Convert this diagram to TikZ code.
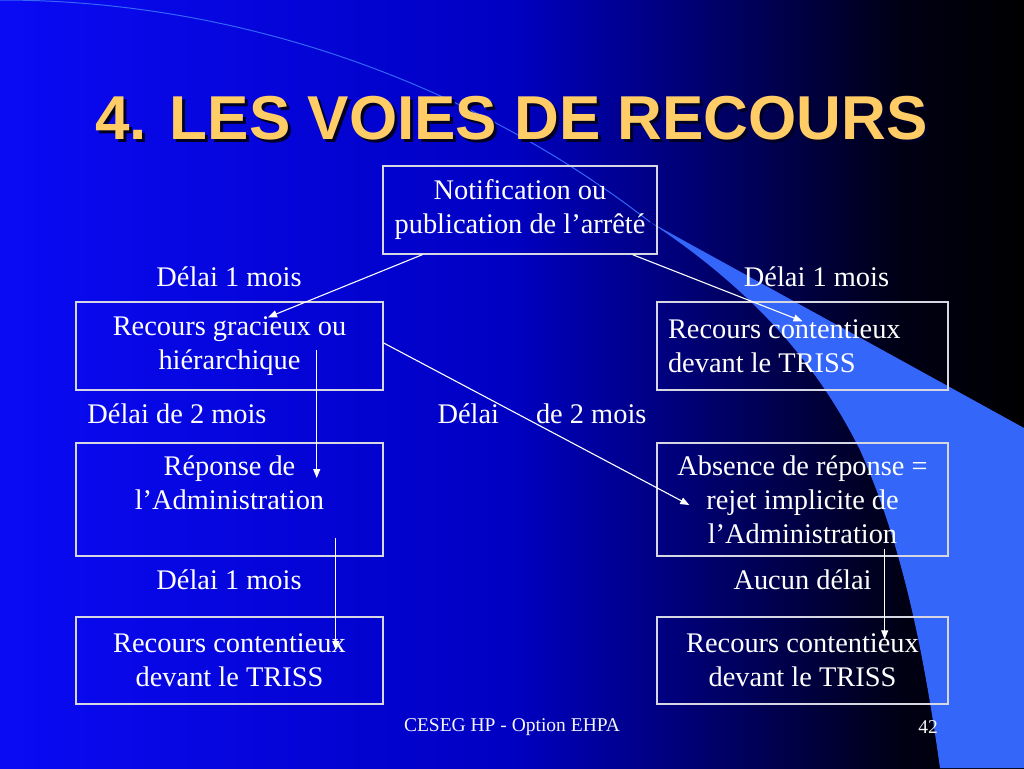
\documentclass[tikz,border=0pt]{standalone}
\usepackage{fontspec}
\setmainfont{Liberation Serif}
\newfontfamily\titlefont{Liberation Sans}
\usetikzlibrary{arrows.meta}

\definecolor{slidegold}{RGB}{255,204,102}
\definecolor{swoosh}{RGB}{52,102,250}
\definecolor{boxline}{RGB}{215,215,228}
\pgfdeclarehorizontalshading{slidebg}{100bp}{rgb(0bp)=(0.04,0.04,0.96); rgb(25bp)=(0.04,0.04,0.96);
  rgb(50bp)=(0,0,0.76); rgb(62.5bp)=(0,0,0.32); rgb(69bp)=(0,0,0.08); rgb(75bp)=(0,0,0); rgb(100bp)=(0,0,0)}
\newcommand\bodyfont{\fontsize{28.4}{34}\selectfont}

\begin{document}
\begin{tikzpicture}[
  x=1pt, y=-1pt,
  box/.style={draw=boxline, line width=1.4pt, text=white, align=center,
              inner sep=0pt, font=\bodyfont},
  lbox/.style={box, minimum width=307pt},
  rbox/.style={box, minimum width=291pt},
  lab/.style={text=white, font=\bodyfont, inner sep=0pt},
  arr/.style={draw=white, line width=1.1pt, -{Triangle[length=9pt,width=7pt]}},
]
\useasboundingbox (0,0) rectangle (1024,768);
% background
\shade[shading=slidebg] (0,0) rectangle (1024,768);
\fill[swoosh] (650,222) -- (1024,428) -- (1024,768) -- (940,768)
  .. controls (922,640) and (900,540) .. (860,450) .. controls (820,370) and (760,295) .. (650,222);
\draw[swoosh, line width=1pt] (0,0) .. controls (250,0) and (480,90) .. (650,222);
% title
\node[font=\titlefont\bfseries\fontsize{62}{70}\selectfont, text=black!85!blue] (titleshadow)
  at (514.5,121) {4. LES VOIES DE RECOURS};
\node[font=\titlefont\bfseries\fontsize{62}{70}\selectfont, text=slidegold] (title)
  at (511.5,118) {4. LES VOIES DE RECOURS};
% boxes
\node[box, minimum width=274pt, minimum height=88pt] (notif) at (520,210)
  {Notification ou\\publication de l'arrêté};
\node[lbox, minimum height=88pt] (gracieux) at (229.5,346) {Recours gracieux ou\\hiérarchique};
\node[rbox, minimum height=88pt, text width=269pt, align=flush left] (contA) at (802.5,346)
  {Recours contentieux\\devant le TRISS};
\node[lbox, minimum height=113pt] (reponse) at (229.5,499.5) {Réponse de\\l'Administration\\\mbox{}};
\node[rbox, minimum height=113pt] (absence) at (802.5,499.5)
  {Absence de réponse =\\rejet implicite de\\l'Administration};
\node[lbox, minimum height=87pt] (contB) at (229.5,660.5) {Recours contentieux\\devant le TRISS};
\node[rbox, minimum height=87pt] (contC) at (802.5,660.5) {Recours contentieux\\devant le TRISS};
% delays
\node[lab] (delaiA) at (229,277) {Délai 1 mois};
\node[lab] (delaiB) at (816.5,277) {Délai 1 mois};
\node[lab] (delaiC) at (177,414) {Délai de 2 mois};
\node[lab] (delaiD) at (542,414) {Délai\hspace*{37pt}de 2 mois};
\node[lab] (delaiE) at (229,580) {Délai 1 mois};
\node[lab] (aucun) at (802.5,580) {Aucun délai};
% footer
\node[lab, text=white!92!gray, font=\fontsize{19.5}{23}\selectfont] (footer) at (512,727)
  {CESEG HP - Option EHPA};
\node[lab, text=white!92!gray, font=\fontsize{19.5}{23}\selectfont] (pagenum) at (928,727) {42};
% arrows
\draw[arr] ([xshift=40pt]notif.south west) -- ([xshift=38.5pt,yshift=-16pt]gracieux.north);
\draw[arr] ([xshift=-25pt]notif.south east) -- ([yshift=-20pt]contA.north);
\draw[arr] ([xshift=-67pt,yshift=-4pt]gracieux.east) -- ([xshift=-67pt,yshift=21.5pt]reponse.east);
\draw[arr] ([yshift=3pt]gracieux.east) -- ([xshift=33pt,yshift=-5.5pt]absence.west);
\draw[arr] ([xshift=-48pt,yshift=19pt]reponse.south east) -- ([xshift=-48pt,yshift=10.5pt]contB.east);
\draw[arr] ([xshift=-64pt,yshift=8pt]absence.south east) -- ([xshift=-64pt,yshift=-23pt]contC.north east);
\end{tikzpicture}
\end{document}
